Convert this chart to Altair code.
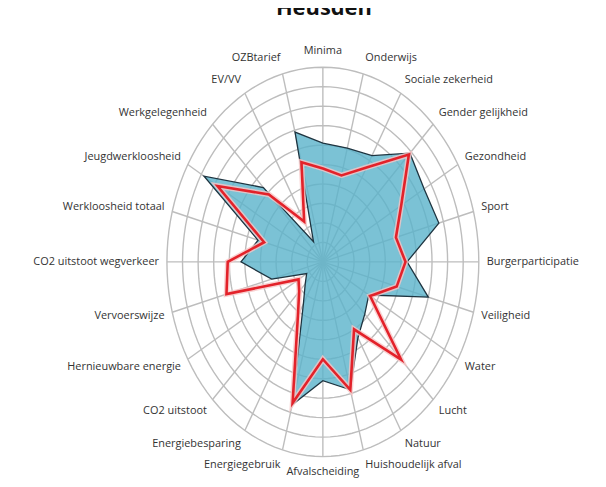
import altair as alt
import numpy as np
import pandas as pd

# ---- data (scale 0..10, one ring per unit) ----
categories = ["Minima", "Onderwijs", "Sociale zekerheid", "Gender gelijkheid",
              "Gezondheid", "Sport", "Burgerparticipatie", "Veiligheid", "Water",
              "Lucht", "Natuur", "Huishoudelijk afval", "Afvalscheiding",
              "Energiegebruik", "Energiebesparing", "CO2 uitstoot",
              "Hernieuwbare energie", "Vervoerswijze", "CO2 uitstoot wegverkeer",
              "Werkloosheid totaal", "Jeugdwerkloosheid", "Werkgelegenheid",
              "EV/VV", "OZBtarief"]
heusden = [6.1, 6.05, 6.3, 7.9, 7.5, 7.7, 5.4, 7.0, 3.4, 3.8, 4.5, 6.8,
           6.1, 7.6, 2.5, 1.6, 1.2, 3.4, 5.25, 4.3, 8.8, 5.4, 1.2, 6.9]
reference = [4.8, 4.6, 5.6, 7.8, 5.8, 4.85, 5.3, 4.9, 3.5, 7.1, 4.0, 6.8,
             5.0, 7.5, 3.2, 2.15, 1.8, 6.4, 6.1, 3.9, 7.8, 4.9, 2.4, 5.3]
ring_levels = list(range(1, 11))
title_text = "Heusden"

# ---- layout ----
W, H = 594, 476
PX_X, PX_Y = 15.7, 19.6          # pixels per unit
CX, CY = 317, 254                 # centre inside the svg
xdom = [-CX / PX_X, (W - CX) / PX_X]
ydom = [CY / PX_Y - H / PX_Y, CY / PX_Y]
xs = alt.Scale(domain=xdom, nice=False, zero=False)
ys = alt.Scale(domain=ydom, nice=False, zero=False)
X = lambda f: alt.X(f, type="quantitative", scale=xs, axis=None)
Y = lambda f: alt.Y(f, type="quantitative", scale=ys, axis=None)

n = len(categories)
ang = np.deg2rad(np.arange(n) * 360.0 / n)

# rings
t = np.deg2rad(np.arange(0, 361, 3))
ring_rows = []
for k in ring_levels:
    for j, a in enumerate(t):
        ring_rows.append({"ring": k, "o": j, "x": k * np.sin(a), "y": k * np.cos(a)})
rings_df = pd.DataFrame(ring_rows)

spokes_df = pd.DataFrame({"x": 0.0, "y": 0.0,
                          "x2": max(ring_levels) * np.sin(ang),
                          "y2": max(ring_levels) * np.cos(ang)})

def poly(vals):
    v = np.array(vals)
    return pd.DataFrame({"o": np.arange(n), "cat": categories,
                         "x": v * np.sin(ang), "y": v * np.cos(ang)})

blue_df = poly(heusden)
red_df = poly(reference)

R = max(ring_levels)
lab = pd.DataFrame({"cat": categories,
                    "x": (R + 8 / PX_X) * np.sin(ang),
                    "y": (R + 16 / PX_Y) * np.cos(ang),
                    "s": np.sin(ang)})

grid_color = "#BDBDBD"
font = "Open Sans"

rings = alt.Chart(rings_df).mark_line(color=grid_color, strokeWidth=1.4).encode(
    x=X("x"), y=Y("y"), detail="ring:N", order="o:Q")
spokes = alt.Chart(spokes_df).mark_rule(color=grid_color, strokeWidth=1.4).encode(
    x=X("x"), y=Y("y"), x2="x2", y2="y2")

blue_fill = alt.Chart(blue_df).mark_line(
    interpolate="linear-closed", fill="#5AB3CB", fillOpacity=0.8,
    stroke="#1E3440", strokeWidth=1.3, strokeJoin="miter").encode(
    x=X("x"), y=Y("y"), order="o:Q")

red_halo = alt.Chart(red_df).mark_line(
    interpolate="linear-closed", color="#F7C4C4", strokeWidth=5.5,
    opacity=0.8, strokeJoin="miter").encode(x=X("x"), y=Y("y"), order="o:Q")
red_line = alt.Chart(red_df).mark_line(
    interpolate="linear-closed", color="#E3222A", strokeWidth=2.6,
    strokeJoin="miter").encode(x=X("x"), y=Y("y"), order="o:Q")

def labels(cond, align):
    return alt.Chart(lab).transform_filter(cond).mark_text(
        align=align, baseline="middle", font=font, fontSize=11,
        color="#333333").encode(x=X("x"), y=Y("y"), text="cat:N")

lab_r = labels("datum.s > 0.05", "left")
lab_l = labels("datum.s < -0.05", "right")
lab_c = labels("abs(datum.s) <= 0.05", "center")

title = alt.Chart(pd.DataFrame({"t": [title_text]})).mark_text(
    font=font, fontSize=22, fontWeight="bold", color="#111111",
    align="center", baseline="alphabetic").encode(
    x=alt.value(318), y=alt.value(5), text="t:N")

chart = alt.layer(rings, spokes, blue_fill, red_halo, red_line,
                  lab_r, lab_l, lab_c, title).properties(
    width=W, height=H, padding=0,
    autosize=alt.AutoSizeParams(type="none")
).configure_view(stroke=None)

chart.save("out.html", embed_options={"renderer": "svg", "actions": False})
